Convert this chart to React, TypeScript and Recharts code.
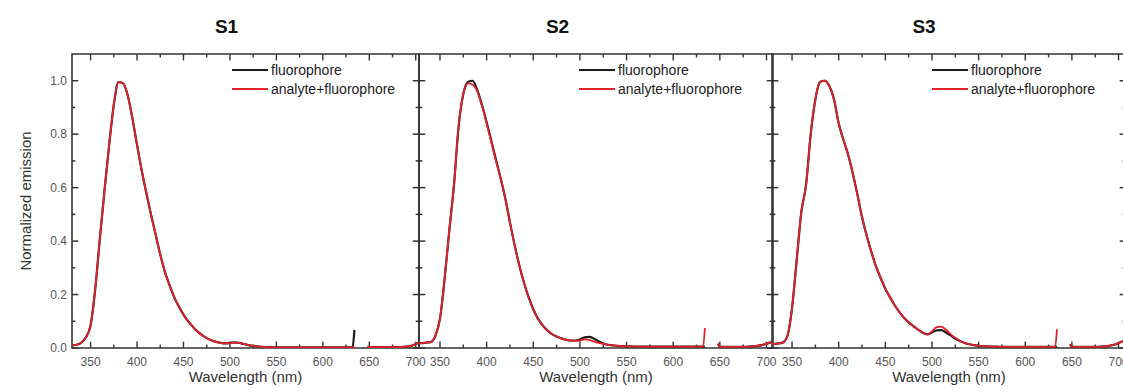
import { LineChart, Line, XAxis, YAxis, ReferenceArea } from 'recharts';

// wavelength grid (nm); gap 636-645 is where the detector cuts out
const wavelengths = [
  325, 330, 335, 340, 345, 350, 355, 360, 365, 370,
  375, 380, 385, 390, 395, 400, 405, 410, 415, 420,
  425, 430, 435, 440, 445, 450, 455, 460, 465, 470,
  475, 480, 485, 490, 495, 500, 505, 510, 515, 520,
  525, 530, 535, 540, 545, 550, 555, 560, 565, 570,
  575, 580, 585, 590, 595, 600, 605, 610, 615, 620,
  625, 630, 632, 634, 636, 640, 645, 648, 650, 655,
  660, 665, 670, 675, 680, 685, 690, 695, 700, 705,
];

const s1Fluorophore = [
  0.008, 0.01, 0.012, 0.02, 0.04, 0.085, 0.22, 0.41, 0.59, 0.76,
  0.91, 0.995, 0.99, 0.945, 0.86, 0.76, 0.665, 0.58, 0.5, 0.425,
  0.35, 0.285, 0.235, 0.19, 0.155, 0.125, 0.1, 0.08, 0.062, 0.048,
  0.037, 0.029, 0.023, 0.019, 0.017, 0.019, 0.021, 0.019, 0.015, 0.011,
  0.008, 0.006, 0.004, 0.003, 0.003, 0.002, 0.002, 0.002, 0.002, 0.002,
  0.002, 0.002, 0.002, 0.002, 0.002, 0.002, 0.002, 0.002, 0.002, 0.002,
  0.002, 0.002, 0.003, 0.068, null, null, null, 0.004, 0.003, 0.003,
  0.003, 0.003, 0.003, 0.003, 0.003, 0.004, 0.005, 0.008, 0.015, 0.022,
];
const s1Mixed = [
  0.008, 0.01, 0.012, 0.02, 0.04, 0.085, 0.22, 0.41, 0.59, 0.76,
  0.91, 0.995, 0.99, 0.945, 0.86, 0.76, 0.665, 0.58, 0.5, 0.425,
  0.35, 0.285, 0.235, 0.19, 0.155, 0.125, 0.1, 0.08, 0.062, 0.048,
  0.037, 0.029, 0.023, 0.019, 0.017, 0.018, 0.02, 0.019, 0.015, 0.011,
  0.008, 0.006, 0.004, 0.003, 0.003, 0.002, 0.002, 0.002, 0.002, 0.002,
  0.002, 0.002, 0.002, 0.002, 0.002, 0.002, 0.002, 0.002, 0.002, 0.002,
  0.002, 0.002, 0.003, 0.004, null, null, null, 0.004, 0.003, 0.003,
  0.003, 0.003, 0.003, 0.003, 0.003, 0.004, 0.005, 0.008, 0.015, 0.022,
];

const s2Fluorophore = [
  0.018, 0.018, 0.02, 0.022, 0.045, 0.11, 0.26, 0.44, 0.61, 0.83,
  0.95, 0.995, 1.0, 0.965, 0.91, 0.845, 0.775, 0.705, 0.635, 0.56,
  0.47, 0.385, 0.31, 0.245, 0.19, 0.145, 0.11, 0.085, 0.066, 0.052,
  0.043, 0.036, 0.031, 0.028, 0.028, 0.032, 0.04, 0.042, 0.035, 0.025,
  0.017, 0.012, 0.01, 0.008, 0.007, 0.006, 0.006, 0.005, 0.005, 0.005,
  0.005, 0.005, 0.005, 0.005, 0.005, 0.005, 0.005, 0.005, 0.005, 0.005,
  0.005, 0.005, 0.005, 0.006, null, null, null, 0.016, 0.005, 0.004,
  0.004, 0.004, 0.004, 0.004, 0.005, 0.006, 0.008, 0.011, 0.016, 0.022,
];
const s2Mixed = [
  0.018, 0.018, 0.02, 0.022, 0.045, 0.11, 0.26, 0.44, 0.61, 0.83,
  0.95, 0.99, 0.985, 0.96, 0.905, 0.84, 0.77, 0.7, 0.635, 0.56,
  0.47, 0.385, 0.31, 0.245, 0.19, 0.145, 0.11, 0.085, 0.066, 0.052,
  0.043, 0.036, 0.031, 0.028, 0.027, 0.028, 0.032, 0.03, 0.024, 0.019,
  0.015, 0.012, 0.01, 0.008, 0.007, 0.006, 0.006, 0.005, 0.005, 0.005,
  0.005, 0.005, 0.005, 0.005, 0.005, 0.005, 0.005, 0.005, 0.005, 0.005,
  0.005, 0.005, 0.005, 0.075, null, null, null, 0.016, 0.005, 0.004,
  0.004, 0.004, 0.004, 0.004, 0.005, 0.006, 0.008, 0.011, 0.016, 0.022,
];

const s3Fluorophore = [
  0.015, 0.015, 0.017, 0.02, 0.045, 0.15, 0.33, 0.51, 0.61, 0.8,
  0.93, 0.995, 1.0, 0.98, 0.93, 0.84, 0.78, 0.725, 0.655, 0.575,
  0.49, 0.42, 0.36, 0.305, 0.262, 0.222, 0.19, 0.16, 0.135, 0.113,
  0.096, 0.082, 0.069, 0.057, 0.051, 0.058, 0.066, 0.067, 0.058, 0.047,
  0.035, 0.026, 0.019, 0.014, 0.011, 0.008, 0.007, 0.006, 0.005, 0.005,
  0.004, 0.004, 0.004, 0.004, 0.004, 0.004, 0.004, 0.004, 0.004, 0.004,
  0.004, 0.004, 0.004, 0.006, null, null, null, 0.014, 0.005, 0.004,
  0.004, 0.004, 0.004, 0.004, 0.005, 0.006, 0.008, 0.012, 0.018, 0.026,
];
const s3Mixed = [
  0.015, 0.015, 0.017, 0.02, 0.045, 0.15, 0.33, 0.51, 0.61, 0.8,
  0.93, 0.995, 1.0, 0.98, 0.93, 0.84, 0.78, 0.725, 0.655, 0.575,
  0.49, 0.42, 0.36, 0.305, 0.262, 0.222, 0.19, 0.16, 0.135, 0.113,
  0.096, 0.082, 0.069, 0.057, 0.051, 0.062, 0.078, 0.08, 0.068, 0.052,
  0.038, 0.027, 0.019, 0.014, 0.011, 0.008, 0.007, 0.006, 0.005, 0.005,
  0.004, 0.004, 0.004, 0.004, 0.004, 0.004, 0.004, 0.004, 0.004, 0.004,
  0.004, 0.004, 0.004, 0.07, null, null, null, 0.014, 0.005, 0.004,
  0.004, 0.004, 0.004, 0.004, 0.005, 0.006, 0.008, 0.012, 0.018, 0.026,
];

const xTicks = [350, 375, 400, 425, 450, 475, 500, 525, 550, 575, 600, 625, 650, 675, 700];
const yTicks = [0, 0.1, 0.2, 0.3, 0.4, 0.5, 0.6, 0.7, 0.8, 0.9, 1.0];
const seriesNames = ['fluorophore', 'analyte+fluorophore'];

const FONT = 'Arial, "Liberation Sans", sans-serif';
const FRAME = '#333';
const TICK_TEXT = '#555';
const BLACK = '#1c1c1c';
const RED = '#e3222c';
const CHART_H = 392;
const PLOT_TOP = 54;
const PLOT_H = 294;
const X_AXIS_H = 40;
const BOTTOM_GAP = 7;
const LEFT_GAP = 5;
const Y_MAX = 1.1;
// inward tick marks, sized in data units: [major, minor] length and half thickness
const X_TICK_LEN = [0.024, 0.013];
const X_TICK_HALF = 0.75;
const Y_TICK_LEN = [6.8, 3.6];
const Y_TICK_HALF = 0.0028;

const isMajorX = (v: number) => v % 50 === 0;
const isMajorY = (v: number) => Math.round(v * 10) % 2 === 0;

const bottomLabel = (p: any) =>
  isMajorX(p.payload.value) ? (
    <text x={p.x} y={p.y} dy={11} textAnchor="middle" fontSize={12} fill={TICK_TEXT} fontFamily={FONT}>
      {p.payload.value}
    </text>
  ) : (
    <g />
  );

const leftLabel = (labels: boolean) => (p: any) =>
  labels && isMajorY(p.payload.value) ? (
    <text x={p.x} y={p.y} dy={4} textAnchor="end" fontSize={12} fill={TICK_TEXT} fontFamily={FONT}>
      {p.payload.value.toFixed(1)}
    </text>
  ) : (
    <g />
  );

interface PanelProps {
  title: string;
  fluor: (number | null)[];
  mixed: (number | null)[];
  domain: [number, number];
  left: number;
  marginLeft: number;
  yAxisWidth: number;
  plotWidth: number;
  marginRight: number;
  titleX: number;
  showYLabels: boolean;
}

const Panel = (cfg: PanelProps) => {
  const data = wavelengths.map((w, i) => ({ w, fluor: cfg.fluor[i], mixed: cfg.mixed[i] }));
  const width = cfg.marginLeft + cfg.yAxisWidth + cfg.plotWidth + cfg.marginRight;
  const plotLeft = cfg.left + cfg.marginLeft + cfg.yAxisWidth;
  const legendLeft = plotLeft + 160;
  const [x0, x1] = cfg.domain;

  const tickProps = { fill: FRAME, fillOpacity: 1, stroke: 'none', ifOverflow: 'visible' as const };

  return (
    <>
      <div
        style={{
          position: 'absolute',
          left: cfg.titleX - 50,
          top: 16,
          width: 100,
          textAlign: 'center',
          fontSize: 19,
          fontWeight: 'bold',
          lineHeight: '22px',
          color: '#111',
        }}
      >
        {cfg.title}
      </div>
      <div style={{ position: 'absolute', left: cfg.left, top: 0 }}>
        <LineChart
          width={width}
          height={CHART_H}
          data={data}
          margin={{ top: PLOT_TOP, right: cfg.marginRight, left: cfg.marginLeft, bottom: CHART_H - PLOT_TOP - PLOT_H - X_AXIS_H }}
        >
          <XAxis
            dataKey="w"
            type="number"
            domain={cfg.domain}
            allowDataOverflow
            ticks={xTicks}
            interval={0}
            height={X_AXIS_H}
            tickSize={0}
            tickMargin={BOTTOM_GAP}
            tickLine={false}
            axisLine={false}
            tick={bottomLabel}
            label={{
              value: 'Wavelength (nm)',
              position: 'insideBottom',
              offset: 6,
              style: { fontSize: 15, fill: '#333', fontFamily: FONT },
            }}
          />
          <YAxis
            type="number"
            domain={[0, Y_MAX]}
            allowDataOverflow
            ticks={yTicks}
            interval={0}
            width={cfg.yAxisWidth}
            tickSize={0}
            tickMargin={LEFT_GAP}
            tickLine={false}
            axisLine={false}
            tick={leftLabel(cfg.showYLabels)}
            label={
              cfg.showYLabels
                ? {
                    value: 'Normalized emission',
                    angle: -90,
                    position: 'insideLeft',
                    offset: 26,
                    style: { textAnchor: 'middle', fontSize: 15, fill: '#333', fontFamily: FONT },
                  }
                : undefined
            }
          />
          {/* tick marks pointing into the plot, bottom + top */}
          {xTicks.map((t) => {
            const len = X_TICK_LEN[isMajorX(t) ? 0 : 1];
            return [
              <ReferenceArea key={`b${t}`} x1={t - X_TICK_HALF} x2={t + X_TICK_HALF} y1={0} y2={len} {...tickProps} />,
              <ReferenceArea key={`t${t}`} x1={t - X_TICK_HALF} x2={t + X_TICK_HALF} y1={Y_MAX - len} y2={Y_MAX} {...tickProps} />,
            ];
          })}
          {/* left + right */}
          {yTicks.map((t) => {
            const len = Y_TICK_LEN[isMajorY(t) ? 0 : 1];
            return [
              <ReferenceArea key={`l${t}`} x1={x0} x2={x0 + len} y1={t - Y_TICK_HALF} y2={t + Y_TICK_HALF} {...tickProps} />,
              <ReferenceArea key={`r${t}`} x1={x1 - len} x2={x1} y1={t - Y_TICK_HALF} y2={t + Y_TICK_HALF} {...tickProps} />,
            ];
          })}
          {/* plot frame */}
          <ReferenceArea
            x1={x0}
            x2={x1}
            y1={0}
            y2={Y_MAX}
            fill="none"
            fillOpacity={0}
            stroke={FRAME}
            strokeWidth={1.6}
            ifOverflow="visible"
          />
          <Line
            type="monotone"
            dataKey="fluor"
            name={seriesNames[0]}
            stroke={BLACK}
            strokeWidth={2.2}
            dot={false}
            isAnimationActive={false}
          />
          <Line
            type="monotone"
            dataKey="mixed"
            name={seriesNames[1]}
            stroke={RED}
            strokeWidth={1.8}
            dot={false}
            isAnimationActive={false}
          />
        </LineChart>
      </div>
      {[BLACK, RED].map((color, i) => (
        <div
          key={i}
          style={{
            position: 'absolute',
            left: legendLeft,
            top: 61 + i * 18.5,
            height: 18,
            display: 'flex',
            alignItems: 'center',
            fontSize: 14,
            color: '#222',
            whiteSpace: 'nowrap',
          }}
        >
          <span style={{ display: 'inline-block', width: 36, height: 2, background: color, marginRight: 3 }} />
          {seriesNames[i]}
        </div>
      ))}
    </>
  );
};

const App = () => (
  <div
    style={{
      position: 'absolute',
      left: 0,
      top: 0,
      width: 1123,
      height: 392,
      overflow: 'hidden',
      background: '#fff',
      fontFamily: FONT,
    }}
  >
    <Panel
      title="S1"
      fluor={s1Fluorophore}
      mixed={s1Mixed}
      domain={[330, 703.5]}
      left={0}
      marginLeft={0}
      yAxisWidth={72}
      plotWidth={347}
      marginRight={10}
      titleX={226.5}
      showYLabels
    />
    <Panel
      title="S2"
      fluor={s2Fluorophore}
      mixed={s2Mixed}
      domain={[327.5, 707]}
      left={417}
      marginLeft={2}
      yAxisWidth={0}
      plotWidth={354}
      marginRight={10}
      titleX={557.5}
      showYLabels={false}
    />
    <Panel
      title="S3"
      fluor={s3Fluorophore}
      mixed={s3Mixed}
      domain={[328.5, 708]}
      left={770}
      marginLeft={2}
      yAxisWidth={0}
      plotWidth={354}
      marginRight={10}
      titleX={924}
      showYLabels={false}
    />
  </div>
);

export default App;
